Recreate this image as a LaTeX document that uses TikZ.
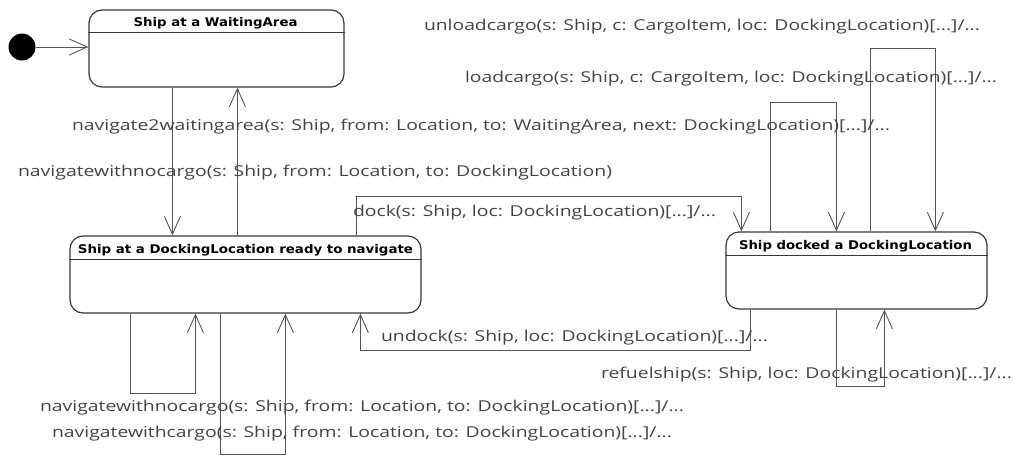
\documentclass[tikz,border=0pt]{standalone}
\usepackage{fontspec}
\usepackage{graphicx}
\usetikzlibrary{arrows.meta}
\setmainfont{Open Sans}
\newfontfamily\titlefont{DejaVu Sans}
\definecolor{edge}{HTML}{555555}
\definecolor{frame}{HTML}{383838}
\definecolor{labeltext}{HTML}{444444}
% stretch a text horizontally to a given width (in pt)
\newlength\lblw
\newcommand\fitto[2]{\settowidth\lblw{#2}\scalebox{\fpeval{#1/\lblw}}[1]{#2}}
\tikzset{
  statebox/.style={draw=frame, line width=1.2pt, rounded corners=13pt, inner sep=0pt,
    minimum height=77pt},
  statetitle/.style={font=\titlefont\bfseries\fontsize{12}{13}\selectfont, inner sep=0pt, anchor=base, text=black},
  headline/.style={draw=frame, line width=1.2pt},
  trans/.style={draw=edge, line width=0.9pt, -{Straight Barb[length=18pt,width=16pt,line width=0.9pt]}},
  tlabel/.style={font=\fontsize{15}{18}\selectfont, text=labeltext, inner sep=0pt, anchor=base},
  initial/.style={circle, fill=black, inner sep=0pt, minimum size=27pt}
}
\begin{document}
\begin{tikzpicture}[x=1pt, y=-1pt]
\useasboundingbox (0,0) rectangle (1013,456);

% states
\node[initial] (init) at (22,47) {};
\node[statebox, minimum width=255pt] (wait) at (216.5,48.5) {};
\node[statebox, minimum width=351pt] (ready) at (245.5,274.5) {};
\node[statebox, minimum width=261pt] (docked) at (856.5,270.5) {};

% compartment lines and titles
\draw[headline] ([yshift=-23pt]wait.north west) -- ([yshift=-23pt]wait.north east);
\draw[headline] ([yshift=-24pt]ready.north west) -- ([yshift=-24pt]ready.north east);
\draw[headline] ([yshift=-24pt]docked.north west) -- ([yshift=-24pt]docked.north east);
\node[statetitle] (waitT) at (215.5,26) {\fitto{164}{Ship at a WaitingArea}};
\node[statetitle] (readyT) at (245.5,253) {\fitto{335}{Ship at a DockingLocation ready to navigate}};
\node[statetitle] (dockedT) at (855.5,249) {\fitto{233}{Ship docked a DockingLocation}};

% initial transition
\draw[trans] (init) -- (init -| wait.west);

% between waiting area and docking location
\draw[trans] ([xshift=84pt]wait.south west) -- ([xshift=103pt]ready.north west);
\draw[trans] ([xshift=168pt]ready.north west) -- ([xshift=149pt]wait.south west);

% dock / undock
\draw[trans] ([xshift=287pt]ready.north west) -- ++(0,-39) -| ([xshift=16pt]docked.north west);
\draw[trans] ([xshift=25pt]docked.south west) -- ++(0,41) -| ([xshift=291pt]ready.south west);

% self transitions of the ready state
\draw[trans] ([xshift=61pt]ready.south west) -- ++(0,80) -| ([xshift=126pt]ready.south west);
\draw[trans] ([xshift=151pt]ready.south west) -- ++(0,141) -| ([xshift=216pt]ready.south west);

% self transitions of the docked state
\draw[trans] ([xshift=45pt]docked.north west) -- ++(0,-129) -| ([xshift=111pt]docked.north west);
\draw[trans] ([xshift=145pt]docked.north west) -- ++(0,-183) -| ([xshift=210pt]docked.north west);
\draw[trans] ([xshift=111pt]docked.south west) -- ++(0,77) -| ([xshift=159pt]docked.south west);

% transition labels
\node[tlabel] (lUnload) at (702,30) {\fitto{556}{unloadcargo(s: Ship, c: CargoItem, loc: DockingLocation)[...]/...}};
\node[tlabel] (lLoad) at (731,82) {\fitto{532}{loadcargo(s: Ship, c: CargoItem, loc: DockingLocation)[...]/...}};
\node[tlabel] (lNav2) at (481,130) {\fitto{818}{navigate2waitingarea(s: Ship, from: Location, to: WaitingArea, next: DockingLocation)[...]/...}};
\node[tlabel] (lNavTop) at (315,176) {\fitto{594}{navigatewithnocargo(s: Ship, from: Location, to: DockingLocation)}};
\node[tlabel] (lDock) at (534.5,216) {\fitto{363}{dock(s: Ship, loc: DockingLocation)[...]/...}};
\node[tlabel] (lUndock) at (574.5,341) {\fitto{387}{undock(s: Ship, loc: DockingLocation)[...]/...}};
\node[tlabel] (lRefuel) at (806.5,378) {\fitto{411}{refuelship(s: Ship, loc: DockingLocation)[...]/...}};
\node[tlabel] (lNavNo) at (362,411) {\fitto{644}{navigatewithnocargo(s: Ship, from: Location, to: DockingLocation)[...]/...}};
\node[tlabel] (lNavCargo) at (362,437) {\fitto{620}{navigatewithcargo(s: Ship, from: Location, to: DockingLocation)[...]/...}};
\end{tikzpicture}
\end{document}
